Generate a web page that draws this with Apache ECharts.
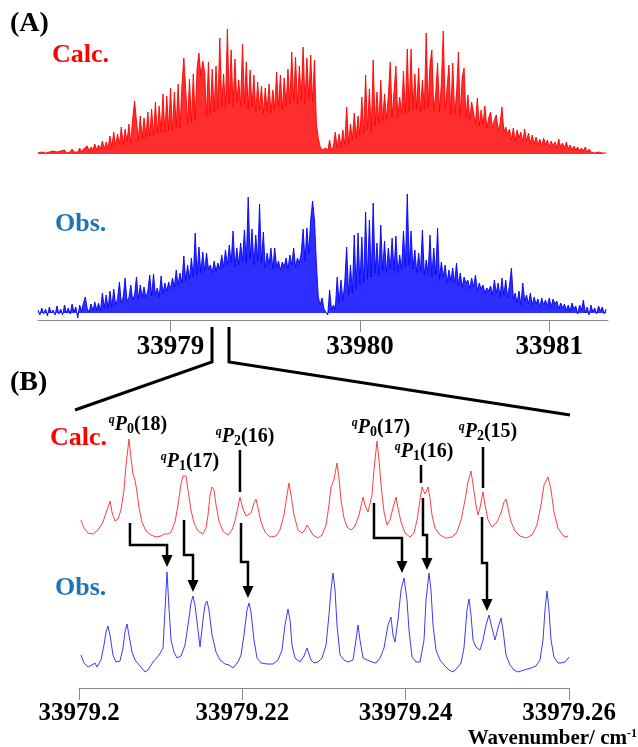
<!DOCTYPE html>
<html>
<head>
<meta charset="utf-8">
<script src="https://cdn.jsdelivr.net/npm/echarts@6/dist/echarts.min.js"></script>
<style>
  html, body { margin: 0; padding: 0; background: #fff; }
  #chart { width: 638px; height: 747px; }
</style>
</head>
<body>
<div id="chart"></div>
<script>
// ---- (A) survey spectra, read every 0.01 cm-1 starting at 33978.30 ----
const A_START = 33978.3;
const A_STEP = 0.01;
const calcA = [
  1, 0, 2, 0, 1, 0, 2, 1, 3, 1,
  2, 1, 3, 1, 4, 1, 3, 2, 5, 2,
  4, 2, 6, 2, 5, 3, 8, 3, 7, 4,
  10, 4, 9, 5, 13, 5, 12, 6, 18, 7,
  22, 8, 20, 10, 27, 9, 25, 12, 30, 11,
  35, 53, 33, 14, 38, 16, 36, 17, 42, 18,
  45, 18, 52, 20, 48, 22, 60, 21, 58, 24,
  66, 23, 62, 27, 70, 26, 68, 96, 65, 30,
  75, 32, 80, 34, 86, 101, 78, 93, 82, 38,
  92, 40, 85, 42, 88, 45, 116, 48, 80, 46,
  125, 50, 104, 47, 95, 52, 74, 48, 110, 50,
  92, 45, 84, 47, 79, 42, 72, 44, 68, 40,
  66, 43, 70, 41, 64, 45, 82, 47, 79, 44,
  76, 48, 85, 50, 102, 52, 97, 49, 88, 54,
  107, 50, 96, 55, 99, 52, 94, 30, 16, 7,
  4, 2, 6, 3, 14, 3, 8, 22, 6, 20,
  7, 24, 9, 47, 10, 30, 14, 41, 16, 38,
  18, 57, 20, 79, 24, 65, 22, 94, 28, 62,
  30, 74, 33, 60, 35, 58, 92, 37, 62, 88,
  36, 57, 40, 83, 40, 105, 42, 105, 44, 80,
  45, 86, 42, 74, 44, 121, 46, 89, 104, 43,
  60, 91, 42, 70, 123, 45, 66, 89, 40, 91,
  40, 60, 102, 38, 77, 86, 36, 59, 34, 52,
  51, 30, 56, 28, 44, 30, 48, 26, 36, 42,
  26, 34, 39, 24, 30, 47, 22, 27, 20, 25,
  14, 26, 13, 24, 16, 22, 12, 25, 13, 21,
  11, 19, 10, 17, 9, 15, 8, 16, 9, 14,
  7, 13, 8, 12, 6, 15, 7, 11, 6, 12,
  5, 9, 4, 8, 4, 7, 3, 6, 3, 7,
  2, 5, 2, 4, 1, 3, 2, 3, 1, 2, 1
];
const obsA = [
  3, -2, 5, -1, 4, -3, 6, 0, 3, -2,
  7, -1, 4, -2, 8, 0, 5, -1, 9, 1,
  6, -5, 8, 2, 10, 16, 4, 1, 9, 2,
  11, 3, 10, 2, 20, 5, 18, 4, 22, 6,
  24, 8, 14, 31, 10, 16, 35, 12, 15, 28,
  13, 18, 36, 14, 28, 16, 26, 15, 22, 38,
  17, 39, 18, 25, 16, 37, 19, 30, 22, 31,
  24, 35, 26, 43, 28, 40, 30, 57, 32, 48,
  34, 55, 36, 80, 38, 66, 40, 61, 42, 60,
  44, 48, 40, 52, 42, 50, 44, 58, 46, 63,
  48, 68, 50, 82, 46, 65, 48, 70, 52, 83,
  50, 116, 54, 84, 48, 78, 52, 109, 50, 81,
  45, 60, 48, 65, 44, 65, 46, 52, 43, 51,
  46, 55, 44, 58, 48, 65, 46, 55, 50, 60,
  84, 52, 85, 60, 93, 112, 93, 50, 16, 8,
  15, 4, 6, -2, 23, 3, 8, 4, 36, 10,
  33, 12, 31, 66, 18, 48, 20, 78, 24, 80,
  28, 76, 30, 101, 34, 93, 36, 110, 40, 70,
  38, 88, 42, 72, 40, 65, 44, 75, 42, 77,
  40, 58, 44, 82, 46, 119, 48, 82, 44, 63,
  40, 60, 42, 83, 38, 53, 40, 78, 36, 65,
  38, 85, 34, 51, 36, 48, 30, 43, 32, 45,
  30, 50, 28, 40, 26, 36, 30, 33, 24, 35,
  26, 38, 22, 30, 24, 28, 20, 25, 22, 27,
  18, 33, 20, 30, 16, 35, 18, 33, 15, 28,
  45, 14, 20, 10, 22, 8, 30, 12, 18, 9,
  20, 8, 16, 9, 14, 6, 15, 8, 13, 7,
  15, 6, 14, 9, 12, 4, 10, 5, 9, 3,
  8, 2, 10, 4, 7, -1, 8, 3, 13, 0,
  6, -2, 8, 1, 5, -1, 7, 2, 6, -1, 4
];
const aTicks = [33979, 33980, 33981];

// ---- (B) expanded region 33979.20 - 33979.26 ----
const calcBx = [
  33979.20024, 33979.20061, 33979.20110, 33979.20171, 33979.20233, 33979.20294, 33979.20343, 33979.20380,
  33979.20404, 33979.20441, 33979.20478, 33979.20514, 33979.20551, 33979.20576, 33979.20612, 33979.20637,
  33979.20661, 33979.20686, 33979.20710, 33979.20735, 33979.20771, 33979.20820, 33979.20882, 33979.20943,
  33979.21004, 33979.21041, 33979.21065, 33979.21090, 33979.21127, 33979.21176, 33979.21212, 33979.21249,
  33979.21273, 33979.21310, 33979.21335, 33979.21371, 33979.21408, 33979.21457, 33979.21518, 33979.21555,
  33979.21580, 33979.21604, 33979.21629, 33979.21653, 33979.21678, 33979.21714, 33979.21763, 33979.21825,
  33979.21873, 33979.21910, 33979.21947, 33979.21971, 33979.22008, 33979.22045, 33979.22069, 33979.22106,
  33979.22143, 33979.22167, 33979.22192, 33979.22229, 33979.22278, 33979.22339, 33979.22412, 33979.22461,
  33979.22510, 33979.22547, 33979.22571, 33979.22596, 33979.22633, 33979.22682, 33979.22731, 33979.22767,
  33979.22792, 33979.22816, 33979.22865, 33979.22927, 33979.22976, 33979.23025, 33979.23061, 33979.23086,
  33979.23122, 33979.23159, 33979.23184, 33979.23208, 33979.23245, 33979.23282, 33979.23331, 33979.23380,
  33979.23429, 33979.23478, 33979.23502, 33979.23539, 33979.23563, 33979.23588, 33979.23612, 33979.23649,
  33979.23674, 33979.23698, 33979.23735, 33979.23771, 33979.23808, 33979.23845, 33979.23882, 33979.23906,
  33979.23943, 33979.23992, 33979.24053, 33979.24102, 33979.24139, 33979.24176, 33979.24200, 33979.24237,
  33979.24274, 33979.24298, 33979.24322, 33979.24359, 33979.24420, 33979.24494, 33979.24567, 33979.24629,
  33979.24678, 33979.24727, 33979.24763, 33979.24800, 33979.24825, 33979.24861, 33979.24886, 33979.24910,
  33979.24947, 33979.24972, 33979.25008, 33979.25057, 33979.25118, 33979.25167, 33979.25204, 33979.25229,
  33979.25253, 33979.25290, 33979.25339, 33979.25400, 33979.25474, 33979.25547, 33979.25608, 33979.25657,
  33979.25694, 33979.25743, 33979.25780, 33979.25816, 33979.25865, 33979.25914, 33979.25951, 33979.25988
];
const calcBy = [
  17, 9, 4, 3, 7, 15, 27, 36,
  25, 16, 18, 27, 47, 72, 98, 79,
  63, 57, 45, 29, 15, 6, 2, 0,
  1, 3, 4, 3, 5, 15, 32, 53,
  61, 61, 47, 27, 14, 6, 3, 9,
  22, 42, 50, 47, 32, 16, 6, 2,
  7, 16, 30, 40, 28, 21, 20, 24,
  34, 38, 29, 15, 5, 0, 1, 7,
  22, 42, 54, 42, 22, 7, 4, 7,
  12, 9, 2, -1, 2, 12, 32, 50,
  57, 74, 59, 37, 19, 10, 7, 11,
  22, 40, 32, 25, 27, 42, 67, 96,
  77, 52, 25, 12, 17, 29, 40, 29,
  15, 4, 0, 4, 17, 37, 50, 43,
  50, 39, 22, 9, 2, -1, 0, 5,
  17, 37, 55, 66, 52, 32, 22, 29,
  45, 32, 17, 10, 15, 24, 35, 38,
  29, 15, 6, 1, -1, 2, 12, 32,
  52, 60, 47, 25, 9, 3, 0, 1
];
const obsBx = [
  33979.20024, 33979.20061, 33979.20110, 33979.20159, 33979.20196, 33979.20220, 33979.20269, 33979.20306,
  33979.20331, 33979.20355, 33979.20380, 33979.20416, 33979.20453, 33979.20502, 33979.20539, 33979.20563,
  33979.20588, 33979.20612, 33979.20649, 33979.20686, 33979.20759, 33979.20808, 33979.20845, 33979.20906,
  33979.20980, 33979.21029, 33979.21053, 33979.21078, 33979.21102, 33979.21127, 33979.21163, 33979.21200,
  33979.21249, 33979.21298, 33979.21335, 33979.21371, 33979.21396, 33979.21420, 33979.21457, 33979.21482,
  33979.21518, 33979.21543, 33979.21567, 33979.21592, 33979.21629, 33979.21678, 33979.21727, 33979.21788,
  33979.21837, 33979.21886, 33979.21947, 33979.21984, 33979.22020, 33979.22057, 33979.22082, 33979.22106,
  33979.22143, 33979.22180, 33979.22229, 33979.22302, 33979.22376, 33979.22437, 33979.22486, 33979.22522,
  33979.22559, 33979.22584, 33979.22608, 33979.22645, 33979.22706, 33979.22755, 33979.22792, 33979.22816,
  33979.22841, 33979.22878, 33979.22927, 33979.22976, 33979.23025, 33979.23061, 33979.23086, 33979.23110,
  33979.23135, 33979.23159, 33979.23196, 33979.23245, 33979.23294, 33979.23355, 33979.23392, 33979.23416,
  33979.23441, 33979.23478, 33979.23527, 33979.23588, 33979.23637, 33979.23686, 33979.23735, 33979.23784,
  33979.23820, 33979.23845, 33979.23869, 33979.23906, 33979.23943, 33979.23980, 33979.24016, 33979.24041,
  33979.24078, 33979.24127, 33979.24176, 33979.24225, 33979.24249, 33979.24286, 33979.24310, 33979.24335,
  33979.24371, 33979.24420, 33979.24482, 33979.24531, 33979.24580, 33979.24629, 33979.24678, 33979.24714,
  33979.24751, 33979.24776, 33979.24800, 33979.24825, 33979.24861, 33979.24910, 33979.24947, 33979.24984,
  33979.25020, 33979.25057, 33979.25094, 33979.25131, 33979.25167, 33979.25192, 33979.25229, 33979.25278,
  33979.25327, 33979.25376, 33979.25449, 33979.25535, 33979.25596, 33979.25645, 33979.25682, 33979.25706,
  33979.25731, 33979.25755, 33979.25780, 33979.25816, 33979.25865, 33979.25902, 33979.25951, 33979.26000
];
const obsBy = [
  13, 5, 1, 3, 5, 1, 8, 23,
  36, 42, 33, 13, 6, 7, 20, 36,
  44, 33, 16, 8, 1, -4, -2, 6,
  13, 20, 58, 96, 60, 28, 16, 10,
  12, 23, 43, 65, 72, 63, 38, 21,
  48, 63, 67, 58, 33, 16, 8, 4,
  3, 0, 6, 13, 33, 58, 65, 56,
  28, 10, 5, 4, 4, 8, 18, 43,
  59, 48, 23, 10, 6, 12, 20, 22,
  8, 5, 6, 10, 23, 53, 78, 95,
  78, 43, 13, 8, 6, 8, 28, 43,
  28, 10, 8, 6, 5, 10, 20, 43,
  51, 33, 26, 48, 78, 90, 68, 38,
  11, 6, 6, 28, 68, 95, 78, 43,
  18, 8, 2, -2, -4, 0, 5, 20,
  58, 69, 53, 28, 21, 18, 28, 43,
  53, 40, 28, 40, 50, 38, 13, 3,
  -2, -4, -2, 0, 2, 8, 28, 58,
  77, 58, 28, 11, 5, 5, 6, 11
];
const bTicks = [33979.2, 33979.22, 33979.24, 33979.26];
const bTickLabels = ['33979.2', '33979.22', '33979.24', '33979.26'];

// assignments: K, J, label position
const peakLabels = [
  { k: '0', j: '18', x: 33979.20722, y: 263 },
  { k: '1', j: '17', x: 33979.21359, y: 226 },
  { k: '2', j: '16', x: 33979.22033, y: 251 },
  { k: '0', j: '17', x: 33979.23698, y: 260 },
  { k: '1', j: '16', x: 33979.24225, y: 236 },
  { k: '2', j: '15', x: 33979.25008, y: 256 }
];
// short marker lines: x, top, bottom
const peakMarks = [
  [33979.21971, 238, 196],
  [33979.24188, 223, 205],
  [33979.24947, 241, 200]
];
// calc -> obs arrows: x calc, x obs, y start, y elbow, y tip
const assignArrows = [
  [33979.20624, 33979.21078, 165, 143, 121],
  [33979.21286, 33979.21396, 168, 133, 96],
  [33979.21984, 33979.22069, 165, 126, 90],
  [33979.23612, 33979.23955, 185, 150, 115],
  [33979.24212, 33979.24261, 190, 153, 118],
  [33979.24935, 33979.24996, 171, 125, 77]
];

const CALC_A_BASE = 166, OBS_A_BASE = 7;
const CALC_B_BASE = 151, OBS_B_BASE = 20;
const SERIF = "'Liberation Serif', 'DejaVu Serif', serif";
const RED = '#ff0000', BLUE = '#0000ff';

const chart = echarts.init(document.getElementById('chart'), null, { renderer: 'canvas' });

const labelRich = {
  q: { fontFamily: SERIF, fontSize: 12, fontStyle: 'italic', fontWeight: 'bold', verticalAlign: 'top', fill: '#000' },
  P: { fontFamily: SERIF, fontSize: 20, fontStyle: 'italic', fontWeight: 'bold', lineHeight: 23, fill: '#000' },
  k: { fontFamily: SERIF, fontSize: 14, fontWeight: 'bold', verticalAlign: 'bottom', fill: '#000' },
  n: { fontFamily: SERIF, fontSize: 20, fontWeight: 'bold', lineHeight: 23, fill: '#000' }
};

function axisCommon(ticks, fmt, fontSize, margin) {
  return {
    type: 'value',
    axisLine: { lineStyle: { color: '#8a8a8a', width: 1 } },
    axisTick: { customValues: ticks, length: 12, lineStyle: { color: '#8a8a8a', width: 1 } },
    axisLabel: {
      customValues: ticks, formatter: fmt, margin: margin,
      fontFamily: SERIF, fontWeight: 'bold', fontSize: fontSize, color: '#000'
    },
    splitLine: { show: false }
  };
}

const option = {
  animation: false,
  backgroundColor: '#fff',
  grid: [
    { left: 38, right: 30, top: 20, bottom: 427 },
    { left: 79, right: 69, top: 413, bottom: 59 }
  ],
  xAxis: [
    Object.assign(axisCommon(aTicks, v => String(v), 27, 14), { gridIndex: 0, min: 33978.3, max: 33981.31 }),
    Object.assign(axisCommon(bTicks, v => {
      const i = bTicks.indexOf(v);
      return i >= 0 ? bTickLabels[i] : String(v);
    }, 25, 13), { gridIndex: 1, min: 33979.2, max: 33979.26 })
  ],
  yAxis: [
    { gridIndex: 0, type: 'value', min: 0, max: 300, show: false },
    { gridIndex: 1, type: 'value', min: 0, max: 275, show: false }
  ],
  series: [
    {
      type: 'line', xAxisIndex: 0, yAxisIndex: 0, silent: true, showSymbol: false,
      data: calcA.map((v, i) => [A_START + i * A_STEP, v + CALC_A_BASE]),
      lineStyle: { color: RED, width: 1, opacity: 0.9 },
      areaStyle: { color: RED, opacity: 0.82, origin: CALC_A_BASE }
    },
    {
      type: 'line', xAxisIndex: 0, yAxisIndex: 0, silent: true, showSymbol: false,
      data: obsA.map((v, i) => [A_START + i * A_STEP, v + OBS_A_BASE]),
      lineStyle: { color: BLUE, width: 1, opacity: 0.9 },
      areaStyle: { color: BLUE, opacity: 0.82, origin: OBS_A_BASE }
    },
    {
      type: 'line', xAxisIndex: 1, yAxisIndex: 1, silent: true, showSymbol: false,
      data: calcBx.map((x, i) => [x, calcBy[i] + CALC_B_BASE]),
      lineStyle: { color: '#ff4040', width: 1 }
    },
    {
      type: 'line', xAxisIndex: 1, yAxisIndex: 1, silent: true, showSymbol: false,
      data: obsBx.map((x, i) => [x, obsBy[i] + OBS_B_BASE]),
      lineStyle: { color: '#3a3aff', width: 1 }
    },
    {
      type: 'custom', xAxisIndex: 1, yAxisIndex: 1, silent: true, clip: false,
      data: peakLabels.map(p => [p.x, p.y]),
      renderItem: (params, api) => {
        const p = peakLabels[params.dataIndex];
        const pt = api.coord([api.value(0), api.value(1)]);
        return {
          type: 'text', x: pt[0], y: pt[1],
          style: {
            text: '{q|q}{P|P}{k|' + p.k + '}{n|(' + p.j + ')}',
            rich: labelRich, align: 'center', verticalAlign: 'middle'
          }
        };
      }
    },
    {
      type: 'custom', xAxisIndex: 1, yAxisIndex: 1, silent: true, clip: false,
      data: peakMarks,
      encode: { x: 0, y: [1, 2] },
      renderItem: (params, api) => {
        const a = api.coord([api.value(0), api.value(1)]);
        const b = api.coord([api.value(0), api.value(2)]);
        return {
          type: 'line', shape: { x1: a[0], y1: a[1], x2: b[0], y2: b[1] },
          style: { stroke: '#000', lineWidth: 2.5 }
        };
      }
    },
    {
      type: 'custom', xAxisIndex: 1, yAxisIndex: 1, silent: true, clip: false,
      data: assignArrows,
      encode: { x: [0, 1], y: [2, 3, 4] },
      renderItem: (params, api) => {
        const a = api.coord([api.value(0), api.value(2)]);
        const b = api.coord([api.value(0), api.value(3)]);
        const c = api.coord([api.value(1), api.value(3)]);
        const d = api.coord([api.value(1), api.value(4)]);
        const head = 12, half = 5.5;
        return {
          type: 'group',
          children: [
            {
              type: 'polyline',
              shape: { points: [a, b, c, [d[0], d[1] - head + 2]] },
              style: { stroke: '#000', lineWidth: 2.5, fill: null }
            },
            {
              type: 'polygon',
              shape: { points: [[d[0] - half, d[1] - head], [d[0] + half, d[1] - head], [d[0], d[1]]] },
              style: { fill: '#000' }
            }
          ]
        };
      }
    }
  ],
  graphic: [
    { type: 'text', x: 10, y: 24, style: { text: '(A)', font: 'bold 28px ' + SERIF, fill: '#000', verticalAlign: 'middle' } },
    { type: 'text', x: 52, y: 55, style: { text: 'Calc.', font: 'bold 26px ' + SERIF, fill: RED, verticalAlign: 'middle' } },
    { type: 'text', x: 55, y: 224, style: { text: 'Obs.', font: 'bold 26px ' + SERIF, fill: '#1b75bc', verticalAlign: 'middle' } },
    { type: 'text', x: 10, y: 383, style: { text: '(B)', font: 'bold 28px ' + SERIF, fill: '#000', verticalAlign: 'middle' } },
    { type: 'text', x: 50, y: 438, style: { text: 'Calc.', font: 'bold 26px ' + SERIF, fill: RED, verticalAlign: 'middle' } },
    { type: 'text', x: 55, y: 588, style: { text: 'Obs.', font: 'bold 26px ' + SERIF, fill: '#1b75bc', verticalAlign: 'middle' } },
    {
      type: 'text', x: 637, y: 739,
      style: {
        text: '{t|Wavenumber/ cm}{s|-1}', align: 'right', verticalAlign: 'middle',
        rich: {
          t: { fontFamily: SERIF, fontWeight: 'bold', fontSize: 21, lineHeight: 22, fill: '#000' },
          s: { fontFamily: SERIF, fontWeight: 'bold', fontSize: 12, verticalAlign: 'top', fill: '#000' }
        }
      }
    },
    // zoom indicator from panel A axis to panel B
    { type: 'polyline', shape: { points: [[212, 327], [212, 362], [75, 410]] }, style: { stroke: '#000', lineWidth: 3, fill: null } },
    { type: 'polyline', shape: { points: [[229, 327], [229, 362], [570, 415]] }, style: { stroke: '#000', lineWidth: 3, fill: null } }
  ]
};

chart.setOption(option);
</script>
</body>
</html>
